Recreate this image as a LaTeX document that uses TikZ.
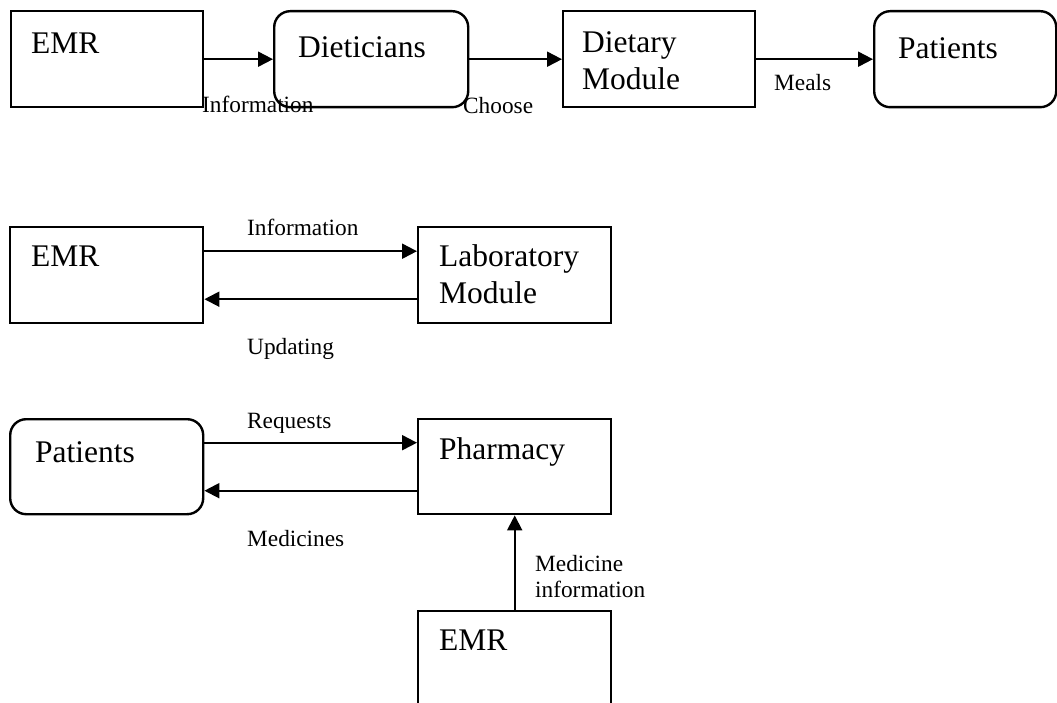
\documentclass[tikz,border=0pt]{standalone}
\usepackage{fontspec}
\setmainfont{Liberation Serif}
\usetikzlibrary{arrows.meta}
\begin{document}
\begin{tikzpicture}[x=1pt,y=-1pt,
  box/.style={draw, line width=2.4pt, anchor=north west, inner sep=0pt,
              minimum width=193pt, minimum height=96pt},
  rbox/.style={box, rounded corners=16pt},
  boxtext/.style={anchor=base west, inner sep=0pt, align=left,
                  font=\fontsize{31.5}{37}\selectfont},
  lbl/.style={anchor=base west, inner sep=0pt, align=left,
              font=\fontsize{23.3}{26}\selectfont},
  flow/.style={line width=2pt, -{Triangle[length=15pt,width=15pt]}}]

% page frame
\clip (0,0) rectangle (1057,703);

% --- dietary chain ---
\node[box, minimum width=192pt] (emrA) at (10,10) {};
\node[rbox, minimum width=194pt] (diet) at (273,10) {};
\node[box, minimum width=192pt] (dmod) at (562,10) {};
\node[rbox, minimum width=182pt] (patA) at (873,10) {};

% text positions are baselines of the last line
\node[boxtext] (emrAt) at (31,54) {EMR};
\node[boxtext] (dietT) at (298,58) {Dieticians};
\node[boxtext] (dmodT) at (582,90) {Dietary\\Module};
\node[boxtext] (patAt) at (898,59) {Patients};

\draw[flow] (emrA) -- (diet);
\draw[flow] (diet) -- (dmod);
\draw[flow] (dmod) -- (patA);

\node[lbl] (infoA) at (202,113) {Information};
\node[lbl] (choose) at (463,114) {Choose};
\node[lbl] (meals) at (774,91) {Meals};

% --- laboratory exchange ---
\node[box] (emrB) at (9,226) {};
\node[box] (lab) at (417,226) {};
\node[boxtext] (emrBt) at (31,267) {EMR};
\node[boxtext] (labT) at (439,303) {Laboratory\\Module};

\draw[flow] ([yshift=24pt]emrB.east) -- ([yshift=24pt]lab.west);
\draw[flow] ([yshift=-24pt]lab.west) -- ([yshift=-24pt]emrB.east);

\node[lbl] (infoB) at (247,236) {Information};
\node[lbl] (upd) at (247,354) {Updating};

% --- pharmacy exchange ---
\node[rbox, minimum height=95pt] (patB) at (9,418) {};
\node[box, minimum height=95pt] (pharm) at (417,418) {};
\node[box] (emrC) at (417,610) {};
\node[boxtext] (patBt) at (35,462) {Patients};
\node[boxtext] (pharmT) at (439,459) {Pharmacy};
\node[boxtext] (emrCt) at (439,650) {EMR};

\draw[flow] ([yshift=24pt]patB.east) -- ([yshift=24pt]pharm.west);
\draw[flow] ([yshift=-24pt]pharm.west) -- ([yshift=-24pt]patB.east);
\draw[flow] (emrC) -- (pharm);

\node[lbl] (req) at (247,428) {Requests};
\node[lbl] (meds) at (247,546) {Medicines};
\node[lbl] (medinfo) at (535,597) {Medicine\\information};
\end{tikzpicture}
\end{document}
